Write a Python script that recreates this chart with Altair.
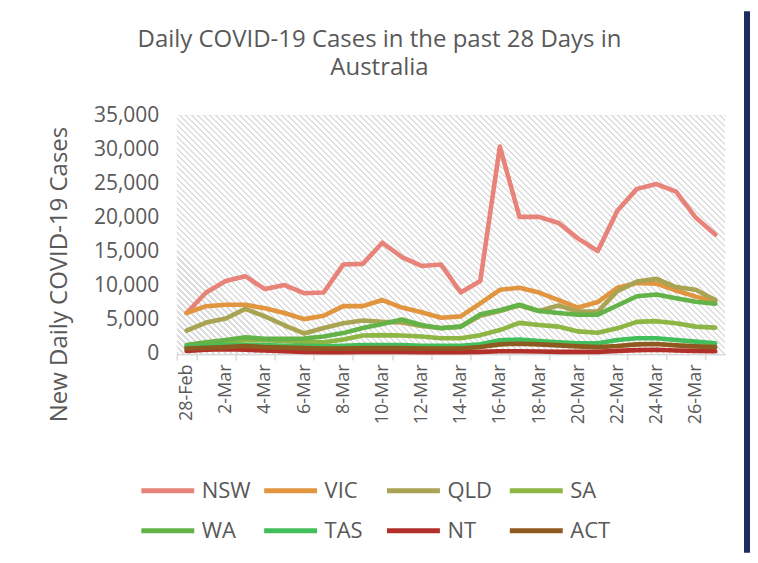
import altair as alt
import pandas as pd

dates = ["28-Feb", "1-Mar", "2-Mar", "3-Mar", "4-Mar", "5-Mar", "6-Mar", "7-Mar",
         "8-Mar", "9-Mar", "10-Mar", "11-Mar", "12-Mar", "13-Mar", "14-Mar", "15-Mar",
         "16-Mar", "17-Mar", "18-Mar", "19-Mar", "20-Mar", "21-Mar", "22-Mar", "23-Mar",
         "24-Mar", "25-Mar", "26-Mar", "27-Mar"]

nsw = [6000, 9000, 10700, 11400, 9500, 10100, 8900, 9000, 13100, 13200, 16300, 14200,
       12900, 13100, 9000, 10700, 30400, 20100, 20100, 19200, 16900, 15100, 21000, 24200,
       24900, 23800, 20000, 17500]
vic = [6000, 7000, 7200, 7200, 6700, 6000, 5100, 5600, 7000, 7000, 7900, 6800,
       6100, 5300, 5500, 7400, 9400, 9700, 9000, 7900, 6800, 7600, 9700, 10400,
       10300, 9300, 8400, 7700]
qld = [3400, 4600, 5200, 6600, 5500, 4200, 3000, 3800, 4500, 4900, 4700, 4600,
       4100, 3800, 4000, 5600, 6300, 7100, 6300, 7100, 6200, 6200, 9200, 10600,
       11000, 9800, 9400, 7900]
sa = [1000, 1300, 1700, 2000, 2000, 1900, 1700, 1700, 2100, 2700, 2750, 2700,
      2550, 2300, 2300, 2750, 3500, 4550, 4250, 4000, 3300, 3100, 3750, 4700,
      4800, 4500, 4000, 3850]
wa = [1300, 1700, 2050, 2450, 2200, 2200, 2250, 2550, 3050, 3800, 4400, 5050,
      4250, 3750, 4000, 5800, 6400, 7200, 6300, 6000, 5750, 5750, 7100, 8450,
      8700, 8150, 7650, 7350]
tas = [1000, 1100, 1300, 1300, 1300, 1200, 1200, 1100, 1200, 1300, 1300, 1300,
       1200, 1200, 1200, 1400, 2000, 2100, 1900, 1700, 1550, 1550, 2050, 2300,
       2300, 2050, 1800, 1550]
nt = [450, 600, 700, 600, 500, 400, 300, 250, 250, 300, 300, 300,
      250, 250, 250, 300, 400, 400, 350, 300, 300, 300, 450, 550,
      600, 500, 450, 400]
act = [800, 900, 1000, 1150, 1000, 950, 850, 800, 800, 850, 850, 850,
       800, 800, 800, 1000, 1400, 1500, 1400, 1250, 1100, 1000, 1150, 1400,
       1450, 1250, 1100, 1000]

states = ["NSW", "VIC", "QLD", "SA", "WA", "TAS", "NT", "ACT"]
series = [nsw, vic, qld, sa, wa, tas, nt, act]
colors = ["#E8837A", "#E2953F", "#A9A453", "#8DB645", "#63B348", "#43BE5C", "#B3302A", "#8F5A1F"]
title_lines = ["Daily COVID-19 Cases in the past 28 Days in", "Australia"]

rows = []
for st, vals in zip(states, series):
    for d, v in zip(dates, vals):
        rows.append({"date": d, "state": st, "cases": v})
df = pd.DataFrame(rows)

W, H = 549, 239
FONT = "Open Sans"
TXT = "#595959"

# diagonal hatch background for the plot area
N = 131
stops = []
for k in range(N):
    a = k / N
    b = (k + 0.36) / N
    c = (k + 1) / N
    stops += [{"offset": round(a, 6), "color": "#dedede"},
              {"offset": round(b, 6), "color": "#dedede"},
              {"offset": round(b, 6), "color": "#ffffff"},
              {"offset": round(min(c, 1.0), 6), "color": "#ffffff"}]
hatch = {"gradient": "linear", "x1": 0, "y1": 1, "x2": 1.2067, "y2": 0.4747, "stops": stops}

one = pd.DataFrame({"a": [0]})

bg = alt.Chart(one).mark_rect(fill=hatch).encode(
    x=alt.value(0), x2=alt.value(W), y=alt.value(0), y2=alt.value(H)
)

even_dates = dates[::2]

lines = alt.Chart(df).mark_line(strokeWidth=4.6, strokeCap="round", strokeJoin="round").encode(
    x=alt.X("date:O", sort=dates, bandPosition=0.5,
            scale=alt.Scale(type="band", paddingInner=0, paddingOuter=0),
            axis=alt.Axis(values=even_dates, labelAngle=270, tickBand="extent",
                          tickColor="#d9d9d9", tickSize=6, tickWidth=1.5,
                          domainColor="#d9d9d9", domainWidth=1.5, labelPadding=4,
                          labelFontSize=18, title=None, grid=False)),
    y=alt.Y("cases:Q", scale=alt.Scale(domain=[0, 35000], nice=False),
            axis=alt.Axis(values=list(range(0, 35001, 5000)), format=",.0f", grid=True,
                          gridColor="#d9d9d9", gridWidth=1.5, domain=False, ticks=False,
                          labelPadding=18, labelFontSize=21, titleFontSize=24,
                          titlePadding=22, titleY=159, title="New Daily COVID-19 Cases")),
    color=alt.Color("state:N", sort=states,
                    scale=alt.Scale(domain=states, range=colors),
                    legend=alt.Legend(orient="none", legendX=-38, legendY=347, columns=4,
                                      direction="horizontal",
                                      symbolType="stroke", symbolSize=2809,
                                      symbolStrokeWidth=5, labelFontSize=22,
                                      gridAlign="all", columnPadding=3, rowPadding=-3,
                                      labelOffset=5, title=None)),
)

title = alt.Chart(one).mark_text(
    text=title_lines, font=FONT, fontSize=24, color=TXT, align="center",
    baseline="top", lineHeight=28
).encode(x=alt.value(203), y=alt.value(-87))

navy = alt.Chart(one).mark_rule(color="#1B2D5C", strokeWidth=6).encode(
    x=alt.value(571), y=alt.value(-104), y2=alt.value(438)
)

chart = alt.layer(bg, lines, title, navy).properties(
    width=W, height=H,
    padding={"left": 39, "top": 0, "right": 0, "bottom": 0},
).configure_axis(
    labelFont=FONT, titleFont=FONT, labelColor=TXT, titleColor=TXT, titleFontWeight="normal"
).configure_legend(
    labelFont=FONT, labelColor=TXT
).configure_view(stroke=None)

chart.save("out.html", embed_options={"renderer": "svg", "actions": False})
